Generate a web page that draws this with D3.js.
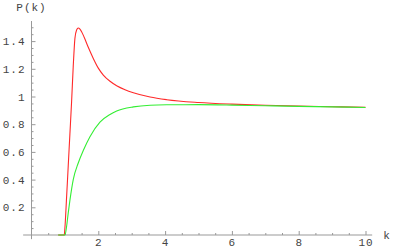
<!DOCTYPE html>
<meta charset="utf-8">
<script src="https://d3js.org/d3.v7.min.js"></script>
<style type="text/css">
body { margin: 0; background: white; }
svg { display: block; }
.axis text {
  font-family: "Liberation Mono", "DejaVu Sans Mono", monospace;
  font-size: 11px;
  letter-spacing: 1px;
  fill: #444;
}
.axis line { stroke: #999; stroke-width: 1px; }
.axis path { display: none; }
.axisLine { stroke: #999; stroke-width: 1px; }
.label {
  font-family: "Liberation Mono", "DejaVu Sans Mono", monospace;
  font-size: 11px;
  letter-spacing: 1px;
  fill: #444;
}
.redLine { fill: none; stroke: #ff2a2a; stroke-width: 1.1; }
.greenLine { fill: none; stroke: #33ee33; stroke-width: 1.1; }
</style>
<body></body>
<script>
  // values
  const redK = [0.8, 0.98, 1.0, 1.05, 1.1, 1.15, 1.2, 1.25, 1.3, 1.35, 1.4, 1.45, 1.5, 1.55, 1.6, 1.7, 1.85, 2.0, 2.15, 2.35, 2.55, 2.8, 3.05, 3.55, 4.05, 5.0, 6.0, 7.0, 8.0, 9.0, 10.0];
  const redP = [0, 0, 0.05, 0.27, 0.5, 0.73, 0.96, 1.22, 1.42, 1.48, 1.495, 1.487, 1.468, 1.443, 1.415, 1.355, 1.275, 1.205, 1.155, 1.11, 1.078, 1.049, 1.027, 0.996, 0.977, 0.957, 0.945, 0.937, 0.931, 0.926, 0.922];

  const greenK = [0.8, 1.0, 1.05, 1.1, 1.15, 1.25, 1.4, 1.55, 1.75, 2.05, 2.35, 2.55, 3.05, 3.55, 4.05, 5.0, 6.0, 7.0, 8.0, 9.0, 10.0];
  const greenP = [0, 0, 0.06, 0.16, 0.25, 0.40, 0.52, 0.61, 0.71, 0.815, 0.87, 0.895, 0.925, 0.937, 0.94, 0.941, 0.938, 0.933, 0.929, 0.925, 0.921];

  const xTicks = [2, 4, 6, 8, 10];
  const yTicks = [0.2, 0.4, 0.6, 0.8, 1, 1.2, 1.4];

  const width = 401;
  const height = 250;

  const svg = d3.select("body").append("svg")
    .attr("width", width)
    .attr("height", height);

  const x = d3.scaleLinear().domain([0, 10]).range([31.5, 365.5]);
  const y = d3.scaleLinear().domain([0, 1]).range([235, 96.5]);

  // minor ticks
  const xMinor = d3.range(0.5, 10.01, 0.5).filter(v => xTicks.indexOf(v) < 0);
  const yMinor = d3.range(1, 31).map(i => i * 0.05).filter(v => !yTicks.some(t => Math.abs(t - v) < 1e-6));

  svg.append("g")
    .attr("class", "x axis")
    .attr("transform", "translate(0," + y(0) + ")")
    .call(d3.axisBottom(x).tickValues(xMinor).tickSize(-2).tickFormat(""));

  svg.append("g")
    .attr("class", "y axis")
    .attr("transform", "translate(" + x(0) + ",0)")
    .call(d3.axisLeft(y).tickValues(yMinor).tickSize(-2).tickFormat(""));

  svg.append("g")
    .attr("class", "x axis")
    .attr("transform", "translate(0," + y(0) + ")")
    .call(d3.axisBottom(x).tickValues(xTicks).tickSizeInner(-4).tickSizeOuter(0).tickPadding(3).tickFormat(d3.format("d")));

  svg.append("g")
    .attr("class", "y axis")
    .attr("transform", "translate(" + x(0) + ",0)")
    .call(d3.axisLeft(y).tickValues(yTicks).tickSizeInner(-4).tickSizeOuter(0).tickPadding(6).tickFormat(d => d3.format("~g")(d)));

  // axis lines (a bit past the origin, like the original)
  svg.append("line").attr("class", "axisLine")
    .attr("x1", x(-0.25)).attr("x2", x(10.2))
    .attr("y1", y(0)).attr("y2", y(0));
  svg.append("line").attr("class", "axisLine")
    .attr("x1", x(0)).attr("x2", x(0))
    .attr("y1", y(-0.03)).attr("y2", y(1.545));

  svg.append("text").attr("class", "label")
    .attr("x", x(0)).attr("y", 11)
    .attr("text-anchor", "middle")
    .text("P(k)");

  svg.append("text").attr("class", "label")
    .attr("x", 387).attr("y", 239)
    .attr("text-anchor", "middle")
    .text("k");

  const line = d3.line()
    .x(d => x(d[0]))
    .y(d => y(d[1]))
    .curve(d3.curveMonotoneX);

  svg.append("path")
    .attr("class", "redLine")
    .attr("d", line(d3.zip(redK, redP)));

  svg.append("path")
    .attr("class", "greenLine")
    .attr("d", line(d3.zip(greenK, greenP)));
</script>
